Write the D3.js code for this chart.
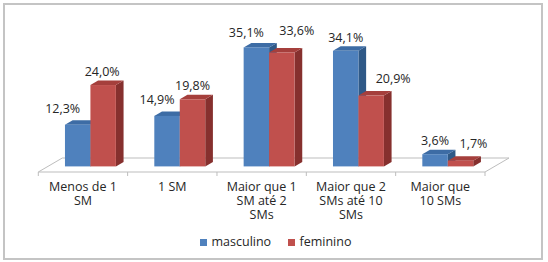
<!DOCTYPE html>
<html>
<head>
<meta charset="utf-8">
<script src="https://cdnjs.cloudflare.com/ajax/libs/d3/7.8.5/d3.min.js"></script>
<style>
  html, body { margin: 0; padding: 0; background: #fff; }
  svg { display: block; font-family: "Open Sans", sans-serif; }
</style>
</head>
<body>
<svg id="chart" width="548" height="262"></svg>
<script>
// data
const categories = ["Menos de 1\nSM", "1 SM", "Maior que 1\nSM até 2\nSMs", "Maior que 2\nSMs até 10\nSMs", "Maior que\n10 SMs"];
const series = ["masculino", "feminino"];
const masculino = [12.3, 14.9, 35.1, 34.1, 3.6];
const feminino = [24.0, 19.8, 33.6, 20.9, 1.7];

// label nudges (the original labels were dragged by hand)
const labelNudge = {
    masculino: [[-15, -3], [-10, -3], [-10, -1], [0, 0], [0, 0]],
    feminino: [[-1, 0], [0, 0], [15, -8], [22, -4], [13, -4]]
};

const colors = {
    masculino: { front: "#4f81bd", top: "#3d6ca5", side: "#2f5987" },
    feminino: { front: "#c0504d", top: "#a53f3c", side: "#86302e" }
};

const svg = d3.select("#chart");
const fmt = d3.formatLocale({ decimal: ",", thousands: ".", grouping: [3], currency: ["", ""] }).format(".1f");

// outer frame
svg.append("rect")
    .attr("x", 4).attr("y", 4)
    .attr("width", 538).attr("height", 255)
    .attr("fill", "#fff")
    .attr("stroke", "#c4c4c4")
    .attr("stroke-width", 2);

const floorY = 172;
const depth = [24, -14];        // floor depth vector
const barZ = 0.4, barD = 0.32;  // bar front position and bar depth, as fractions of floor depth

const x = d3.scaleBand().domain(categories).range([38.3, 485]);
const y = d3.scaleLinear().domain([0, 40]).range([0, 135.6]);
const bw = x.bandwidth() * 0.285;
const xs = d3.scaleBand().domain(series).range([0, 2 * bw]);

// floor
const x0 = 38.3, x1 = 485;
svg.append("polygon")
    .attr("points", [[x0, floorY], [x1, floorY], [x1 + depth[0], floorY + depth[1]], [x0 + depth[0], floorY + depth[1]]].join(" "))
    .attr("fill", "#fff")
    .attr("stroke", "#bdbdbd")
    .attr("stroke-width", 1);

// ticks under the front edge
svg.append("g").selectAll("line")
    .data(categories.concat(["end"]))
    .join("line")
    .attr("x1", (d, i) => i < categories.length ? x(d) : x1)
    .attr("x2", (d, i) => i < categories.length ? x(d) : x1)
    .attr("y1", floorY).attr("y2", floorY + 4)
    .attr("stroke", "#bdbdbd");

// bars
const fx = depth[0] * barZ, fy = depth[1] * barZ;
const dx = depth[0] * barD, dy = depth[1] * barD;
const bars = [];
series.forEach(s => {
    const vals = s === "masculino" ? masculino : feminino;
    vals.forEach((v, i) => bars.push({ s, v, i, cat: categories[i] }));
});
bars.sort((a, b) => a.i - b.i || series.indexOf(a.s) - series.indexOf(b.s));

const gb = svg.append("g");
bars.forEach(d => {
    const left = x(d.cat) + fx + x.bandwidth() * 0.191 + xs(d.s);
    const right = left + xs.bandwidth();
    const base = floorY + fy;
    const top = base - y(d.v);
    const c = colors[d.s];
    const g = gb.append("g");
    g.append("polygon")
        .attr("points", [[right, top], [right + dx, top + dy], [right + dx, base + dy], [right, base]].join(" "))
        .attr("fill", c.side);
    g.append("polygon")
        .attr("points", [[left, top], [left + dx, top + dy], [right + dx, top + dy], [right, top]].join(" "))
        .attr("fill", c.top);
    g.append("rect")
        .attr("x", left).attr("y", top)
        .attr("width", right - left).attr("height", base - top)
        .attr("fill", c.front);
    d.cx = (left + right) / 2;
    d.top = top;
});

// value labels
svg.append("g").selectAll("text")
    .data(bars)
    .join("text")
    .attr("x", d => d.cx + labelNudge[d.s][d.i][0])
    .attr("y", d => d.top - 9 + labelNudge[d.s][d.i][1])
    .attr("text-anchor", "middle")
    .attr("font-size", 12.5)
    .attr("fill", "#262626")
    .text(d => fmt(d.v) + "%");

// category labels, one text per line
const lines = [];
categories.forEach(c => c.split("\n").forEach((t, k) => lines.push({ c, t, k })));
svg.append("g").selectAll("text")
    .data(lines)
    .join("text")
    .attr("x", d => x(d.c) + x.bandwidth() / 2)
    .attr("y", d => 190.7 + d.k * 14.3)
    .attr("text-anchor", "middle")
    .attr("font-size", 12.5)
    .attr("fill", "#262626")
    .text(d => d.t);

// legend
const legendX = [200, 288];
const lg = svg.append("g").selectAll("g")
    .data(series)
    .join("g")
    .attr("transform", (d, i) => `translate(${legendX[i]},239)`);
lg.append("rect")
    .attr("width", 7).attr("height", 7)
    .attr("fill", d => colors[d].front);
lg.append("text")
    .attr("x", 11.5).attr("y", 7)
    .attr("font-size", 12.5)
    .attr("fill", "#262626")
    .text(d => d);
</script>
</body>
</html>
